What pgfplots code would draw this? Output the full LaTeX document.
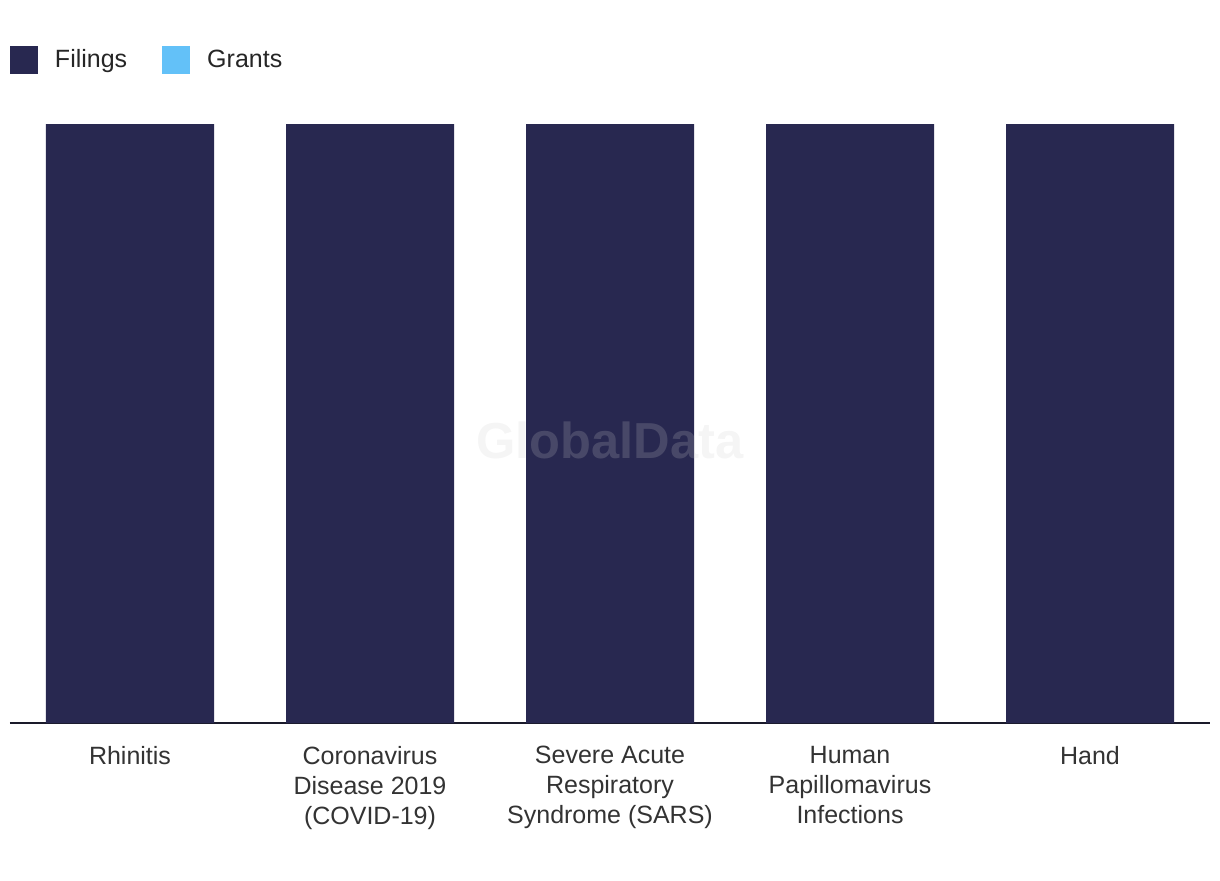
\documentclass[border=0pt]{standalone}
\usepackage{pgfplots}
\pgfplotsset{compat=1.18}
\usepackage{fontspec}
\setmainfont{Liberation Sans}
\definecolor{filings}{HTML}{282850}
\definecolor{grants}{HTML}{63C1F8}
\definecolor{labeltext}{HTML}{333333}
\definecolor{axisline}{HTML}{1A1A2A}

\begin{document}
\begin{tikzpicture}
\useasboundingbox (0,0) rectangle (610pt,440pt);
\begin{axis}[
    at={(5pt,78.5pt)}, anchor=south west,
    scale only axis,
    width=600pt, height=299.5pt,
    xmin=-0.5, xmax=4.5,
    ymin=0, ymax=1,
    ybar, bar width=84pt,
    axis y line=none,
    axis x line=bottom,
    axis line style={-, line width=1pt, color=axisline},
    xtick={0,1,2,3,4},
    xticklabels={Rhinitis,
        {Coronavirus\\Disease 2019\\(COVID-19)},
        {Severe Acute\\Respiratory\\Syndrome (SARS)},
        {Human\\Papillomavirus\\Infections},
        Hand},
    xticklabel style={align=center, text=labeltext,
        font=\fontsize{12.5}{15}\selectfont, yshift=-8pt},
    major tick length=0pt,
    ytick=\empty,
    legend style={at={(0,1)}, anchor=south west, yshift=25pt,
        draw=none, fill=none, inner sep=0pt, outer sep=0pt,
        legend columns=2,
        font=\fontsize{12.5}{15}\selectfont,
        nodes={inner sep=0pt, anchor=west, text=black!85},
        /tikz/every odd column/.append style={column sep=8.5pt},
        /tikz/every even column/.append style={column sep=17.5pt}},
    legend image code/.code={\fill[#1] (0pt,-7pt) rectangle (14pt,7pt);},
]
\addplot[fill=filings, draw=none, bar shift=0pt] coordinates {
    (0,1) (1,1) (2,1) (3,1) (4,1)
};
\addlegendentry{Filings}
\addlegendimage{fill=grants, draw=none}
\addlegendentry{Grants}
\end{axis}
\node[font=\bfseries\fontsize{25.3}{25}\selectfont, text=black!20, opacity=0.2]
    at (305pt,220pt) {GlobalData};
\end{tikzpicture}
\end{document}
